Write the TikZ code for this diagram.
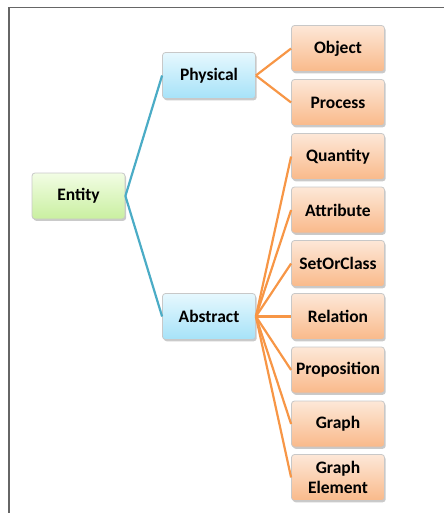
\documentclass[tikz,border=0pt]{standalone}
\usepackage{fontspec}
\setmainfont{Carlito}
\usetikzlibrary{shadows}
\definecolor{frameg}{HTML}{666666}
\definecolor{blueline}{HTML}{4BACC6}
\definecolor{orline}{HTML}{F79646}
\definecolor{gtop}{HTML}{F2FDE4}
\definecolor{gbot}{HTML}{C9EFA0}
\definecolor{btop}{HTML}{E6F8FE}
\definecolor{bbot}{HTML}{A6E2F8}
\definecolor{otop}{HTML}{FDE8D8}
\definecolor{obot}{HTML}{F9B98A}
\definecolor{boxedge}{HTML}{C8C8C8}
\begin{document}
\begin{tikzpicture}[x=1pt,y=-1pt,
  box/.style={draw=boxedge, line width=0.8pt, rounded corners=3pt,
    minimum width=93pt, minimum height=46pt, align=center,
    font=\fontsize{17.5}{19.5}\selectfont\bfseries, inner sep=1pt,
    drop shadow={shadow xshift=1.2pt, shadow yshift=-1.8pt, opacity=0.35, fill=black!60}},
  gbox/.style={box, top color=gtop, bottom color=gbot},
  bbox/.style={box, top color=btop, bottom color=bbot},
  obox/.style={box, top color=otop, bottom color=obot},
  bl/.style={draw=blueline, line width=2.2pt},
  ol/.style={draw=orline, line width=2.2pt}]
\useasboundingbox (0,0) rectangle (444,513);
\draw[frameg, line width=1.6pt] (9,513) -- (9,7.5) -- (444,7.5);
\node[gbox] (entity) at (78.5,196) {Entity};
\node[bbox] (phys) at (209,75.5) {Physical};
\node[bbox] (abs) at (209,316.5) {Abstract};
\node[obox] (obj) at (338,48.5) {Object};
\node[obox] (proc) at (338,102.5) {Process};
\node[obox] (quan) at (338,156.5) {Quantity};
\node[obox] (attr) at (338,210) {Attribute};
\node[obox] (soc) at (338,263.5) {SetOrClass};
\node[obox] (rel) at (338,316.5) {Relation};
\node[obox] (prop) at (338,370) {Proposition};
\node[obox] (graph) at (338,424) {Graph};
\node[obox] (gel) at (338,477.5) {Graph\\Element};
\draw[bl] (entity.east) -- (phys.west);
\draw[bl] (entity.east) -- (abs.west);
\foreach \c in {obj,proc} \draw[ol] (phys.east) -- (\c.west);
\foreach \c in {quan,attr,soc,rel,prop,graph,gel} \draw[ol] (abs.east) -- (\c.west);
\end{tikzpicture}
\end{document}
